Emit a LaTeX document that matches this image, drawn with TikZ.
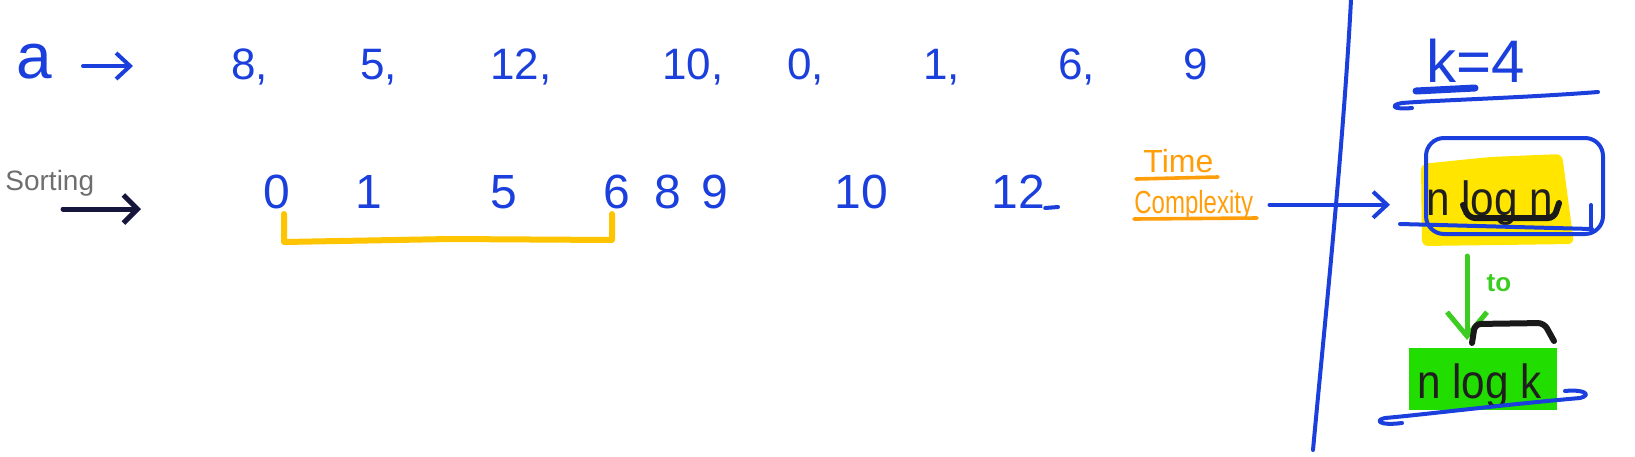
\documentclass[tikz,border=0pt]{standalone}
\usepackage{fontspec}
\setmainfont{Liberation Sans}
\usepackage{graphicx}
\usetikzlibrary{arrows.meta}
\definecolor{ink}{HTML}{1B3FDC}
\definecolor{orangeink}{HTML}{FF9E0A}
\definecolor{hlyellow}{HTML}{FFE500}
\definecolor{hlgreen}{HTML}{22DD00}
\definecolor{greenink}{HTML}{3CCC22}
\definecolor{navyink}{HTML}{16163C}
\definecolor{grayink}{HTML}{6E6E6E}
\definecolor{bracketyellow}{HTML}{FFC400}
\begin{document}
\begin{tikzpicture}[x=0.5pt,y=-0.5pt,
  pen/.style={draw=ink,line width=2pt,line cap=round,line join=round},
  barb/.style={-{Straight Barb[length=7pt,width=13pt]}},
  numA/.style={inner sep=0pt,anchor=base west,text=ink,font=\fontsize{22}{26}\selectfont},
  numB/.style={inner sep=0pt,anchor=base west,text=ink,font=\fontsize{24}{28}\selectfont},
  blackpen/.style={draw=black!90,line width=3pt,line cap=round,rounded corners=3pt},
  formula/.style={inner sep=0pt,anchor=base west,text=black!88,font=\fontsize{24}{28}\selectfont}
  ]
\useasboundingbox (0,0) rectangle (1635,456);

% highlights
\fill[hlyellow,rounded corners=3pt] (1421,164) -- (1490,157) -- (1562,154) -- (1574,244) -- (1422,246) -- cycle;
\fill[hlgreen] (1409,348) rectangle (1557,410);

% row 1
\node[numA,font=\fontsize{32}{36}\selectfont] (a) at (16,78) {a};
\coordinate (a1) at (83,66);
\coordinate (a2) at (133,66);
\draw[pen,barb] (a1) -- (a2);
\node[numA] (n8)  at (231,79) {8,};
\node[numA] (n5)  at (360,79) {5,};
\node[numA] (n12) at (490,79) {12,};
\node[numA] (n10) at (662,79) {10,};
\node[numA] (n0)  at (787,79) {0,};
\node[numA] (n1)  at (923,79) {1,};
\node[numA] (n6)  at (1058,79) {6,};
\node[numA] (n9)  at (1183,79) {9};

% row 2
\node[inner sep=0pt,anchor=base west,text=grayink,font=\fontsize{14}{16}\selectfont] (sorting) at (5,190) {Sorting};
\coordinate (s1) at (63,209);
\coordinate (s2) at (141,209);
\draw[draw=navyink,line width=2.5pt,line cap=round,-{Straight Barb[length=7pt,width=14pt]}] (s1) -- (s2);
\node[numB] (m0)  at (263,208) {0};
\node[numB] (m1)  at (355,208) {1};
\node[numB] (m5)  at (490,208) {5};
\node[numB] (m6)  at (603,208) {6};
\node[numB] (m8)  at (654,208) {8};
\node[numB] (m9)  at (701,208) {9};
\node[numB] (m10) at (834,208) {10};
\node[numB] (m12) at (991,208) {12};
\coordinate (m12tail) at (1058,207);
\draw[pen] (m12.base east) -- (m12tail);
\draw[draw=bracketyellow,line width=3pt,line cap=round,line join=round]
  (284,214) -- (284,242) -- (450,239) -- (612,240) -- (612,214);

% time complexity
\node[inner sep=0pt,anchor=base west,text=orangeink,font=\fontsize{16}{18}\selectfont] (time) at (1143,172) {Time};
\draw[draw=orangeink,line width=1.8pt,line cap=round] (1136,179) -- (1218,177);
\node[inner sep=0pt,anchor=base west,text=orangeink,font=\fontsize{16}{18}\selectfont] (cplx) at (1134,213) {\scalebox{0.75}[1]{Complexity}};
\draw[draw=orangeink,line width=1.8pt,line cap=round] (1134,219) -- (1257,218);

% separator
\draw[pen] (1351,0) .. controls (1343,150) and (1325,320) .. (1313,450);

% k = 4
\node[inner sep=0pt,anchor=base west,text=ink,font=\fontsize{30}{34}\selectfont] (k4) at (1426,82) {k=4};
\draw[draw=ink,line width=3.5pt,line cap=round] (1416,91) -- (1475,88);
\draw[pen] (1598,92) .. controls (1520,98) and (1440,100) .. (1402,103) .. controls (1390,105) and (1392,110) .. (1412,108);

% n log n box
\node[draw=ink,line width=2pt,rounded corners=9pt,minimum width=88.5pt,minimum height=48pt,inner sep=0pt] (nbox) at (1514.5,186) {};
\node[formula] (nlogn) at (1426,215) {\scalebox{0.88}[1]{n log n}};
\draw[blackpen] (1463,205) -- (1469,218) -- (1554,218) -- (1559,203);
\draw[pen] (1400,224) -- (1592,229);
\draw[pen] (1591,205) -- (1591,229);
\draw[pen,barb,shorten <=8pt,shorten >=17pt] (cplx.east) -- (cplx.east -| nbox.west);

% to
\coordinate (g1) at (1467,256);
\coordinate (g2) at (1467,340);
\draw[draw=greenink,line width=2.5pt,line cap=round,-{Straight Barb[length=12pt,width=20pt]}] (g1) -- (g2);
\node[text=greenink,font=\bfseries\fontsize{13}{14}\selectfont] (to) at (1499,283) {to};

% n log k
\draw[blackpen] (1472,343) -- (1475,324) -- (1544,323) -- (1554,341);
\node[formula] (nlogk) at (1417,398) {\scalebox{0.88}[1]{n log k}};
\draw[pen] (1565,391) .. controls (1585,389) and (1592,395) .. (1580,398) .. controls (1500,405) and (1420,415) .. (1385,418) .. controls (1375,420) and (1378,426) .. (1402,423);
\end{tikzpicture}
\end{document}
